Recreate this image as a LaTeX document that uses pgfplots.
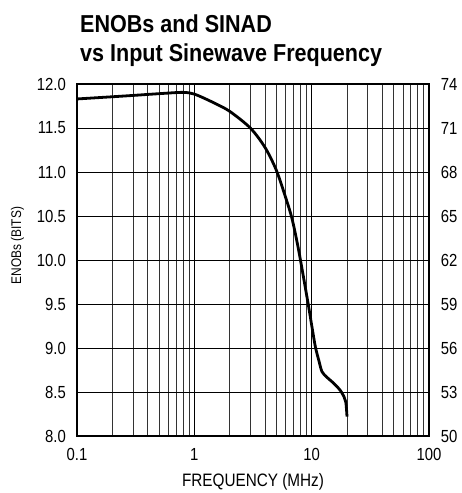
\documentclass[border=0pt]{standalone}
\usepackage{pgfplots}
\pgfplotsset{compat=1.18}
\usepackage{fontspec}
\setmainfont{Liberation Sans}[FakeStretch=0.85]
\newfontfamily\titlefont{Liberation Sans}[FakeStretch=0.88]

\begin{document}
\begin{tikzpicture}
\useasboundingbox (-77bp,-57bp) rectangle (385bp,436bp);
\begin{axis}[
    width=352bp, height=352bp, scale only axis,
    xmode=log, xmin=0.1, xmax=100, ymin=8, ymax=12,
    xtick={0.1,1,10,100}, xticklabels={0.1,1,10,100},
    minor xtick={0.2,0.3,0.4,0.5,0.6,0.7,0.8,0.9,2,3,4,5,6,7,8,9,20,30,40,50,60,70,80,90},
    ytick={8,8.5,9,9.5,10,10.5,11,11.5,12},
    yticklabels={8.0,8.5,9.0,9.5,10.0,10.5,11.0,11.5,12.0},
    grid=both,
    major grid style={black, line width=0.9bp},
    minor grid style={black!80, line width=0.9bp},
    major tick length=0pt, minor tick length=0pt,
    axis line style={black, line width=1.3bp},
    tick label style={font=\fontsize{17.5bp}{20bp}\selectfont, inner sep=0pt},
    xticklabel shift=12bp, yticklabel shift=11bp,
    xlabel={FREQUENCY (MHz)}, ylabel={ENOBs (BITS)},
    xlabel style={font=\fontsize{18bp}{20bp}\selectfont, at={(axis description cs:0.5,-0.144)}, anchor=base, inner sep=0pt},
    ylabel style={font=\fontsize{14bp}{16bp}\selectfont, at={(axis description cs:-0.159,0.541)}, anchor=base, inner sep=0pt},
]
\addplot[black, line width=2.8bp, smooth] coordinates {
    (0.1,11.83) (0.2,11.855) (0.3,11.87) (0.5,11.89) (0.8,11.905) (1.0,11.885)
    (1.3,11.82) (1.5,11.78) (2.0,11.69) (3.0,11.50) (4.0,11.28) (5.0,11.02)
    (6.0,10.71) (6.8,10.47) (7.75,10.11) (9.31,9.51) (10.0,9.26) (10.75,9.015)
    (11.5,8.86) (12.25,8.73) (13.5,8.667) (15.4,8.60) (17,8.54) (18.2,8.485)
    (19.5,8.39) (20,8.22)
};
\end{axis}
\begin{axis}[
    width=352bp, height=352bp, scale only axis,
    xmode=log, xmin=0.1, xmax=100, ymin=50, ymax=74,
    axis x line=none, axis y line*=right,
    ytick={50,53,56,59,62,65,68,71,74},
    yticklabels={50,53,56,59,62,65,68,71,74},
    major tick length=0pt,
    axis line style={black, line width=1.3bp},
    tick label style={font=\fontsize{17.5bp}{20bp}\selectfont, inner sep=0pt},
    yticklabel shift=11.7bp,
]
\addplot[draw=none] coordinates {(1,60)};
\end{axis}
\node[anchor=base west, inner sep=0pt, font=\titlefont\bfseries\fontsize{24.5bp}{28bp}\selectfont] at (3bp,403bp) {ENOBs and SINAD};
\node[anchor=base west, inner sep=0pt, font=\titlefont\bfseries\fontsize{24.5bp}{28bp}\selectfont] at (3bp,374bp) {vs Input Sinewave Frequency};
\end{tikzpicture}
\end{document}
